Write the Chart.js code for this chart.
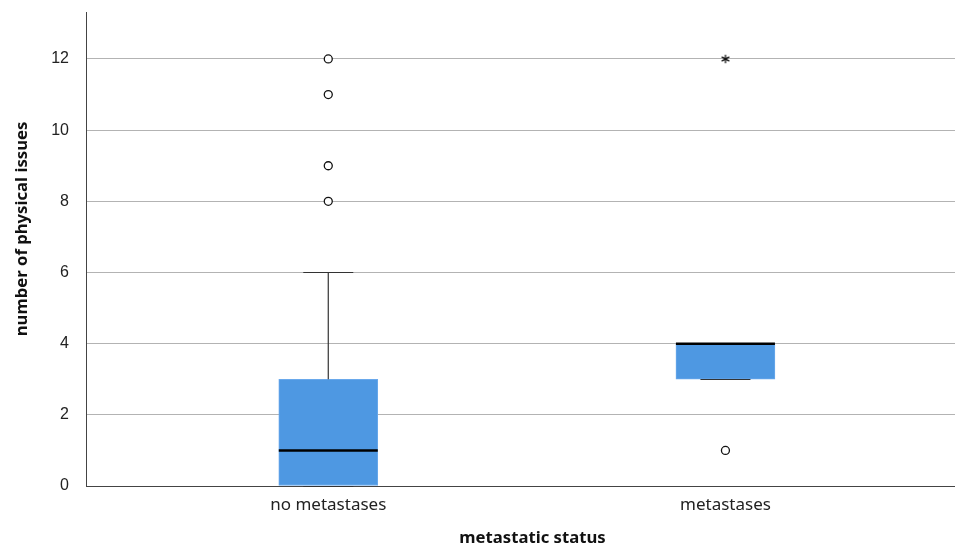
<!DOCTYPE html>
<html><head><meta charset="utf-8">
<script src="https://cdn.jsdelivr.net/npm/chart.js@4/dist/chart.umd.min.js"></script>
<style>html,body{margin:0;padding:0;background:#fff;overflow:hidden}canvas{display:block}</style>
</head><body><canvas id="c" width="955" height="546" style="width:955px;height:546px"></canvas>
<script>
const categories = ['no metastases', 'metastases'];
const q1 = [0, 3];
const median = [1, 4];
const q3 = [3, 4];
const whiskerLow = [0, 3];
const whiskerHigh = [6, 4];
const outliers = [[8, 9, 11, 12], [1]];
const extremes = [[], [12]];
const yTicks = [0, 2, 4, 6, 8, 10, 12];
const xTitle = 'metastatic status';
const yTitle = 'number of physical issues';

// asterisk point style for extreme values
const star = document.createElement('canvas');
star.width = 12; star.height = 12;
(function () {
  const g = star.getContext('2d');
  g.strokeStyle = '#111'; g.lineWidth = 1.3;
  const cx = 6, cy = 6, r = 4.3;
  for (let k = 0; k < 3; k++) {
    const a = Math.PI / 2 + k * Math.PI / 3;
    g.beginPath();
    g.moveTo(cx + r * Math.cos(a), cy - r * Math.sin(a));
    g.lineTo(cx - r * Math.cos(a), cy + r * Math.sin(a));
    g.stroke();
  }
})();

const boxData = categories.map((c, i) => ({ x: i + 1, y: [q1[i], q3[i]] }));
const outlierData = [];
outliers.forEach((arr, i) => arr.forEach(v => outlierData.push({ x: i + 1, y: v })));
const extremeData = [];
extremes.forEach((arr, i) => arr.forEach(v => extremeData.push({ x: i + 1, y: v })));

const boxPlugin = {
  id: 'boxparts',
  afterDatasetsDraw(chart) {
    const ctx = chart.ctx, xs = chart.scales.x, ys = chart.scales.y;
    ctx.save();
    categories.forEach((c, i) => {
      const cx = xs.getPixelForValue(i + 1);
      const capHalf = 25, boxHalf = 49.5;
      ctx.strokeStyle = '#333'; ctx.lineWidth = 1.2;
      if (whiskerHigh[i] > q3[i]) {
        ctx.beginPath();
        ctx.moveTo(cx, ys.getPixelForValue(q3[i]));
        ctx.lineTo(cx, ys.getPixelForValue(whiskerHigh[i]));
        ctx.stroke();
      }
      if (whiskerLow[i] < q1[i]) {
        ctx.beginPath();
        ctx.moveTo(cx, ys.getPixelForValue(q1[i]));
        ctx.lineTo(cx, ys.getPixelForValue(whiskerLow[i]));
        ctx.stroke();
      }
      [whiskerHigh[i], whiskerLow[i]].forEach(v => {
        const y = Math.round(ys.getPixelForValue(v)) + 0.5;
        ctx.beginPath();
        ctx.moveTo(cx - capHalf, y);
        ctx.lineTo(cx + capHalf, y);
        ctx.stroke();
      });
      ctx.strokeStyle = '#000'; ctx.lineWidth = 2.5;
      const my = ys.getPixelForValue(median[i]);
      ctx.beginPath();
      ctx.moveTo(cx - boxHalf, my);
      ctx.lineTo(cx + boxHalf, my);
      ctx.stroke();
    });
    ctx.restore();
  },
  afterDraw(chart) {
    const ctx = chart.ctx, a = chart.chartArea;
    ctx.save();
    ctx.fillStyle = '#111';
    ctx.font = 'bold 16.7px "Noto Sans"';
    ctx.textAlign = 'center';
    ctx.textBaseline = 'middle';
    ctx.fillText(xTitle, (a.left + a.right) / 2 + 12, chart.height - 8);
    ctx.translate(22, (a.top + a.bottom) / 2 - 20);
    ctx.rotate(-Math.PI / 2);
    ctx.fillText(yTitle, 0, 0);
    ctx.restore();
  }
};

new Chart(document.getElementById('c'), {
  type: 'bar',
  data: {
    datasets: [
      {
        type: 'bar', data: boxData,
        backgroundColor: '#4e98e2', borderColor: '#6aa9ec', borderWidth: 1,
        borderSkipped: false, barThickness: 99, order: 3
      },
      {
        type: 'scatter', data: outlierData,
        pointStyle: 'circle', radius: 4, borderColor: '#111', borderWidth: 1.3,
        backgroundColor: '#fff', order: 1
      },
      {
        type: 'scatter', data: extremeData,
        pointStyle: star, radius: 6, order: 1
      }
    ]
  },
  options: {
    responsive: false, animation: false, devicePixelRatio: 1,
    layout: { autoPadding: false, padding: { top: 12, right: 0, left: 0, bottom: 0 } },
    plugins: { legend: { display: false }, tooltip: { enabled: false } },
    scales: {
      x: {
        type: 'linear', min: 0.39, max: 2.578, offset: false,
        afterBuildTicks: s => { s.ticks = categories.map((c, i) => ({ value: i + 1 })); },
        afterFit: s => { s.height = 60; s.paddingLeft = 0; s.paddingRight = 0; },
        grid: { display: false, drawTicks: false, offset: false },
        border: { color: '#444', width: 1 },
        ticks: {
          callback: (v, i) => categories[i],
          font: { family: '"Noto Sans"', size: 17 }, color: '#222', padding: 9,
          maxRotation: 0, autoSkip: false
        }
      },
      y: {
        min: 0, max: 13.32,
        afterBuildTicks: s => { s.ticks = yTicks.map(v => ({ value: v })); },
        afterFit: s => { s.width = 86; s.paddingTop = 0; s.paddingBottom = 0; },
        grid: {
          color: ctx => (ctx.tick && ctx.tick.value === 0) ? 'rgba(0,0,0,0)' : '#b3b3b3',
          drawTicks: false, lineWidth: 1
        },
        border: { color: '#444', width: 1 },
        ticks: {
          font: { family: '"Liberation Sans"', size: 16 }, color: '#222', padding: 17
        }
      }
    }
  },
  plugins: [boxPlugin]
});
</script>
</body></html>
